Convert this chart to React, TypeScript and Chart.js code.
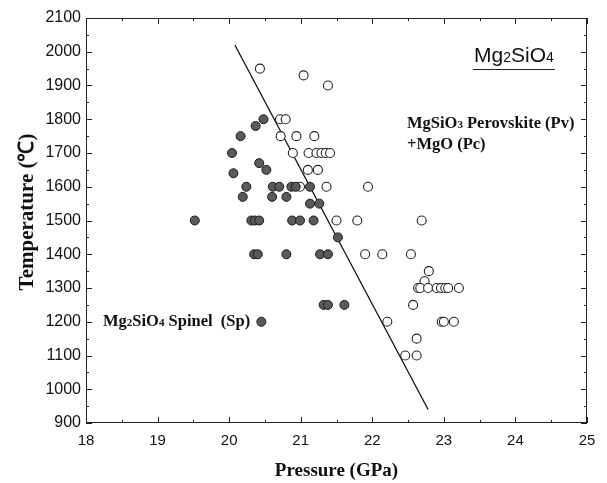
import React, { useEffect, useRef } from "react";
import { Chart, registerables } from "chart.js";

Chart.register(...registerables);

// Spinel (filled circles): [pressure GPa, temperature °C]
const spinelP = [19.52, 20.04, 20.06, 20.16, 20.19, 20.24, 20.31, 20.36, 20.42, 20.35, 20.40, 20.37, 20.42, 20.45, 20.48, 20.52, 20.60, 20.61, 20.70, 20.80, 20.80, 20.87, 20.93, 20.88, 20.99, 21.13, 21.13, 21.26, 21.18, 21.27, 21.38, 21.32, 21.38, 21.52, 21.61];
const spinelT = [1500, 1700, 1640, 1750, 1570, 1600, 1500, 1500, 1500, 1400, 1400, 1780, 1670, 1200, 1800, 1650, 1570, 1600, 1600, 1570, 1400, 1600, 1600, 1500, 1500, 1600, 1550, 1550, 1500, 1400, 1400, 1250, 1250, 1450, 1250];

// Perovskite + periclase (open circles)
const pvP = [20.43, 20.71, 20.79, 20.72, 20.94, 21.19, 20.89, 21.11, 21.22, 21.29, 21.35, 21.41, 21.04, 21.38, 21.10, 21.24, 20.99, 21.36, 21.94, 21.50, 21.79, 22.69, 21.90, 22.14, 22.54, 22.79, 22.73, 22.64, 22.67, 22.78, 22.90, 22.96, 23.02, 23.06, 23.21, 22.57, 22.21, 22.97, 23.00, 23.14, 22.62, 22.46, 22.62];
const pvT = [1950, 1800, 1800, 1750, 1750, 1750, 1700, 1700, 1700, 1700, 1700, 1700, 1930, 1900, 1650, 1650, 1600, 1600, 1600, 1500, 1500, 1500, 1400, 1400, 1400, 1350, 1320, 1300, 1300, 1300, 1300, 1300, 1300, 1300, 1300, 1250, 1200, 1200, 1200, 1200, 1150, 1100, 1100];

// Phase boundary
const boundaryP = [20.08, 22.78];
const boundaryT = [2020, 940];

const xTicks = [18, 19, 20, 21, 22, 23, 24, 25];
const yTicks = [900, 1000, 1100, 1200, 1300, 1400, 1500, 1600, 1700, 1800, 1900, 2000, 2100];

const toXY = (xs: number[], ys: number[]) => xs.map((x, i) => ({ x, y: ys[i] }));

function drawSub(ctx: CanvasRenderingContext2D, parts: [string, boolean][], x: number, y: number, big: string, small: string, subDy: number) {
  let cx = x;
  for (const [t, sub] of parts) {
    ctx.font = sub ? small : big;
    ctx.fillText(t, cx, sub ? y + subDy : y);
    cx += ctx.measureText(t).width;
  }
  return cx;
}

const framePlugin = {
  id: "frameTicks",
  afterDraw(chart: any) {
    const ctx = chart.ctx as CanvasRenderingContext2D;
    const { left, right, top, bottom } = chart.chartArea;
    const xs = chart.scales.x;
    const ys = chart.scales.y;
    ctx.save();
    ctx.strokeStyle = "#222";
    ctx.lineWidth = 1;
    ctx.strokeRect(left + 0.5, top + 0.5, right - left - 1, bottom - top - 1);
    ctx.beginPath();
    for (let v = xTicks[0]; v <= xTicks[xTicks.length - 1] + 1e-9; v += 0.5) {
      const px = Math.round(xs.getPixelForValue(v)) + 0.5;
      const len = Math.abs(v - Math.round(v)) < 1e-6 ? 6 : 3;
      ctx.moveTo(px, bottom);
      ctx.lineTo(px, bottom - len);
      ctx.moveTo(px, top);
      ctx.lineTo(px, top + len);
    }
    for (let v = yTicks[0]; v <= yTicks[yTicks.length - 1]; v += 50) {
      const py = Math.round(ys.getPixelForValue(v)) + 0.5;
      const len = v % 100 === 0 ? 6 : 3;
      ctx.moveTo(left, py);
      ctx.lineTo(left + len, py);
      ctx.moveTo(right, py);
      ctx.lineTo(right - len, py);
    }
    ctx.stroke();

    ctx.fillStyle = "#111";
    ctx.textBaseline = "alphabetic";
    ctx.textAlign = "left";
    // Title formula
    const endX = drawSub(ctx, [["Mg", false], ["2", true], ["SiO", false], ["4", true]], 474, 62, "21px 'Liberation Sans'", "14px 'Liberation Sans'", 0);
    ctx.beginPath();
    ctx.lineWidth = 1;
    ctx.moveTo(473, 69.5);
    ctx.lineTo(endX + 1, 69.5);
    ctx.stroke();

    const bold = "bold 16.5px 'Liberation Serif'";
    const boldSub = "bold 11px 'Liberation Serif'";
    drawSub(ctx, [["MgSiO", false], ["3", true], [" Perovskite (Pv)", false]], 407, 128, bold, boldSub, 0);
    drawSub(ctx, [["+MgO (Pc)", false]], 407, 149, bold, boldSub, 0);
    drawSub(ctx, [["Mg", false], ["2", true], ["SiO", false], ["4", true], [" Spinel  (Sp)", false]], 103, 326, bold, boldSub, 0);

    // y-axis title
    ctx.save();
    ctx.translate(33, 212);
    ctx.rotate(-Math.PI / 2);
    ctx.textAlign = "center";
    ctx.font = "bold 21px 'Liberation Serif'";
    ctx.fillText("Temperature (℃)", 0, 0);
    ctx.restore();
    ctx.restore();
  },
};

export default function App() {
  const ref = useRef<HTMLCanvasElement | null>(null);
  useEffect(() => {
    document.body.style.margin = "0";
    const canvas = ref.current!;
    const chart = new Chart(canvas, {
      type: "scatter",
      data: {
        datasets: [
          {
            label: "Spinel",
            data: toXY(spinelP, spinelT),
            pointRadius: 4.5,
            pointBackgroundColor: "#5a5a5a",
            pointBorderColor: "#1a1a1a",
            pointBorderWidth: 1,
          },
          {
            label: "Pv+Pc",
            data: toXY(pvP, pvT),
            pointRadius: 4.5,
            pointBackgroundColor: "#fff",
            pointBorderColor: "#222",
            pointBorderWidth: 1.1,
          },
          {
            label: "boundary",
            data: toXY(boundaryP, boundaryT),
            showLine: true,
            pointRadius: 0,
            borderColor: "#111",
            borderWidth: 1.3,
          },
        ],
      },
      options: {
        animation: false,
        responsive: false,
        events: [],
        layout: { padding: { top: 18, right: 20, left: 0, bottom: 0 } },
        plugins: { legend: { display: false }, tooltip: { enabled: false } },
        scales: {
          x: {
            type: "linear",
            min: 18,
            max: 25,
            afterFit: (s: any) => { s.height = 60; },
            afterBuildTicks: (s: any) => { s.ticks = xTicks.map((v) => ({ value: v })); },
            grid: { display: true, drawOnChartArea: false, drawTicks: false },
            border: { display: false },
            ticks: { color: "#111", padding: 9, callback: (v: any) => String(v), font: { family: "'Liberation Sans'", size: 15 } },
            title: { display: true, text: "Pressure (GPa)", color: "#111", padding: { top: 0, bottom: 1 }, font: { family: "'Liberation Serif'", size: 19, weight: "bold" } },
          },
          y: {
            type: "linear",
            min: 900,
            max: 2100,
            afterFit: (s: any) => { s.width = 86; },
            afterBuildTicks: (s: any) => { s.ticks = yTicks.map((v) => ({ value: v })); },
            grid: { display: true, drawOnChartArea: false, drawTicks: false },
            border: { display: false },
            ticks: { color: "#111", padding: 5, callback: (v: any) => String(v), font: { family: "'Liberation Sans'", size: 16 } },
            title: { display: false },
          },
        },
      },
      plugins: [framePlugin],
    });
    return () => chart.destroy();
  }, []);
  return <canvas ref={ref} width={607} height={483} style={{ display: "block" }} />;
}
